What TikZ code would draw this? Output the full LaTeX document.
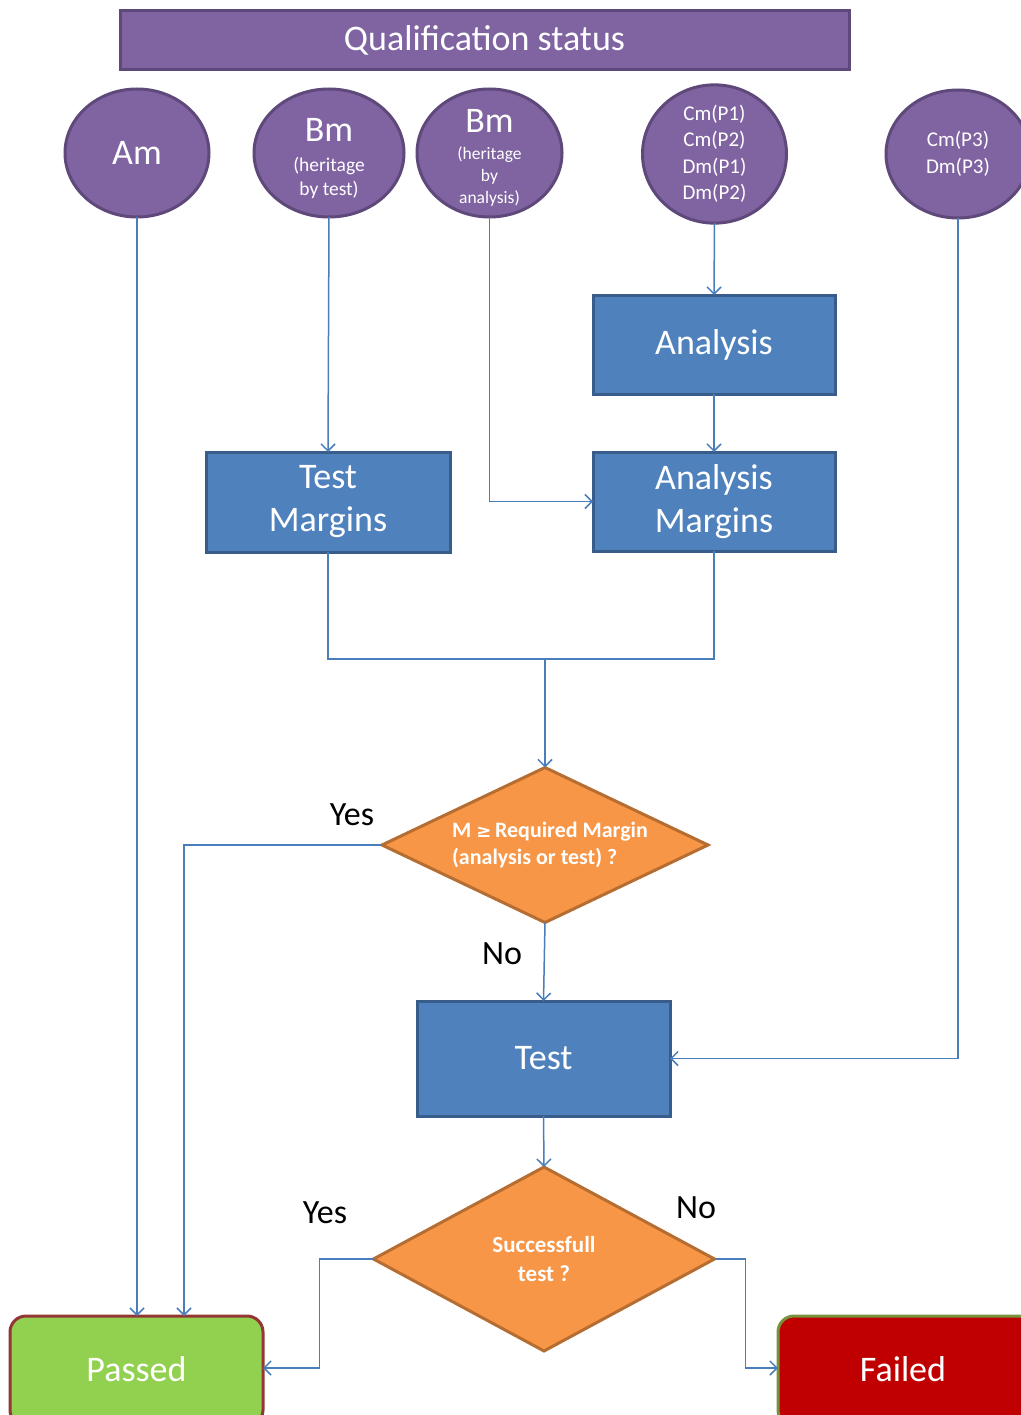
\documentclass[tikz,border=0pt]{standalone}
\usepackage{fontspec}
\setmainfont{Carlito}
\usetikzlibrary{shapes.geometric,arrows.meta}
\definecolor{purpF}{HTML}{8064A2}
\definecolor{purpD}{HTML}{5F497A}
\definecolor{blueF}{HTML}{4F81BD}
\definecolor{blueD}{HTML}{385D8A}
\definecolor{orF}{HTML}{F79646}
\definecolor{orD}{HTML}{B66D31}
\definecolor{grF}{HTML}{92D050}
\definecolor{grD}{HTML}{943634}
\definecolor{rdF}{HTML}{C00000}
\definecolor{rdD}{HTML}{77933C}
\definecolor{lineC}{HTML}{4A7EBB}
\begin{document}
\begin{tikzpicture}[x=1pt,y=-1pt,
  circ/.style={ellipse, draw=purpD, fill=purpF, line width=3pt, minimum width=144pt, minimum height=128pt, inner sep=0pt, outer sep=0pt, text=white, align=center},
  ctext/.style={text=white, align=center, inner sep=0pt},
  blk/.style={rectangle, draw=blueD, fill=blueF, line width=3pt, inner sep=0pt, outer sep=0pt, text=white, align=center, font=\fontsize{36}{43}\selectfont},
  dia/.style={diamond, draw=orD, fill=orF, line width=3pt, inner sep=0pt, outer sep=0pt, text=white, font=\bfseries\fontsize{22}{27}\selectfont},
  endbox/.style={rectangle, rounded corners=16pt, line width=3pt, inner sep=0pt, outer sep=0pt, text=white, font=\fontsize{36}{43}\selectfont},
  conn/.style={draw=lineC, line width=1.5pt},
  arr/.style={conn, -{Straight Barb[length=7pt,width=14pt]}},
  lbl/.style={font=\fontsize{34}{40}\selectfont, text=black, inner sep=0pt}]
\useasboundingbox (0,0) rectangle (1020,1415);
\fill[white] (0,0) rectangle (1020,1415);

% title
\node[rectangle, draw=purpD, fill=purpF, line width=3pt, minimum width=729pt, minimum height=59pt, inner sep=0pt, text=white, font=\fontsize{36}{40}\selectfont] (title) at (484.5,40) {Qualification status};

% ellipses
\node[circ, font=\fontsize{36}{40}\selectfont] (am) at (137,153) {Am};
\node[circ, minimum width=150pt] (bmt) at (329,153) {};
\node[ctext, font=\fontsize{19.5}{24}\selectfont] (bmtt) at (329,159) {{\fontsize{36}{36}\selectfont Bm}\\[6pt](heritage\\by test)};
\node[circ, minimum width=145pt] (bma) at (489.5,153) {};
\node[ctext, font=\fontsize{17.5}{22}\selectfont] (bmat) at (489.5,158) {{\fontsize{36}{36}\selectfont Bm}\\[5pt](heritage\\by\\analysis)};
\node[circ, font=\fontsize{21}{26.5}\selectfont] (cd) at (714.5,154) {Cm(P1)\\Cm(P2)\\Dm(P1)\\Dm(P2)};
\node[circ, font=\fontsize{21}{26.5}\selectfont] (cp3) at (958,154) {Cm(P3)\\Dm(P3)};

% blocks
\node[blk, minimum width=242pt, minimum height=99pt] (an) at (714,344.5) {Analysis};
\node[blk, minimum width=244pt, minimum height=100pt] (tm) at (328,502) {Test\\Margins};
\node[blk, minimum width=242pt, minimum height=99pt] (anm) at (714,501.5) {Analysis\\Margins};
\node[blk, minimum width=253pt, minimum height=115pt] (test) at (543.5,1058.5) {Test};

% diamonds
\node[dia, minimum width=326pt, minimum height=155pt] (d1) at (545,845) {};
\node[text=white, font=\bfseries\fontsize{22}{27}\selectfont, align=left, inner sep=0pt] (d1t) at (550,845) {M {\fontspec{DejaVu Sans}\fontsize{18}{27}\selectfont ≥}\,Required Margin\\(analysis or test) ?};
\node[dia, minimum width=341pt, minimum height=184pt, align=center, font=\bfseries\fontsize{23}{29}\selectfont] (d2) at (544,1259) {Successfull\\test ?};

% end boxes
\node[endbox, draw=grD, fill=grF, minimum width=253pt, minimum height=110pt, anchor=north] (passed) at (136.5,1316) {};
\node[text=white, font=\fontsize{36}{43}\selectfont, inner sep=0pt] (passedt) at (136.5,1369) {Passed};
\node[endbox, draw=rdD, fill=rdF, minimum width=260pt, minimum height=110pt, anchor=north west] (failed) at (778,1316) {};
\node[text=white, font=\fontsize{36}{43}\selectfont, inner sep=0pt] (failedt) at (903,1369) {Failed};
\coordinate (pE) at (263,1368);
\coordinate (fW) at (778,1368);

% connectors
\draw[arr] (am.south) -- (am.south |- passed.north);
\draw[arr] (bmt.south) -- (tm.north);
\draw[arr] (bma.south) |- (anm.west);
\draw[arr] (cd.south) -- (an.north);
\draw[arr] (an.south) -- (anm.north);
\coordinate (join) at (545,659);
\draw[conn] (tm.south) |- (join);
\draw[conn] (anm.south) |- (join);
\draw[arr] (join) -- (d1.north);
\coordinate (yes1) at (184,1316);
\draw[arr] (d1.west) -| (yes1);
\draw[arr] (d1.south) -- (test.north);
\draw[arr] (cp3.south) |- (test.east);
\draw[arr] (test.south) -- (d2.north);
\draw[arr] (d2.west) -- ++(-54,0) |- (pE);
\draw[arr] (d2.east) -- ++(31,0) |- (fW);

% labels
\node[lbl] (lyes1) at (352,815) {Yes};
\node[lbl] (lno1) at (502,954) {No};
\node[lbl] (lyes2) at (325,1213) {Yes};
\node[lbl] (lno2) at (696,1208) {No};
\end{tikzpicture}
\end{document}
